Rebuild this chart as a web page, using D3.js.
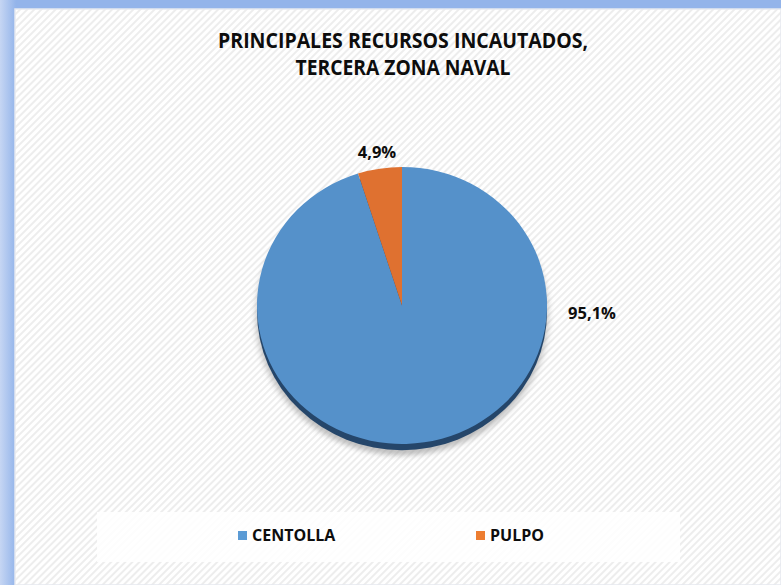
<!DOCTYPE html>
<html>
<head>
<meta charset="utf-8">
<script src="https://cdn.jsdelivr.net/npm/d3@7"></script>
<style>
  html, body { margin: 0; padding: 0; background: #8fb1e9; overflow: hidden; }
  svg { display: block; font-family: "Open Sans", Lato, sans-serif; }
</style>
</head>
<body>
<div id="chart"></div>
<script>
const titleLines = ["PRINCIPALES RECURSOS INCAUTADOS,", "TERCERA ZONA NAVAL"];
const categories = ["CENTOLLA", "PULPO"];
const values = [95.1, 4.9];
const valueLabels = ["95,1%", "4,9%"];
const sliceColors = ["#5591ca", "#df7130"];
const legendColors = ["#5b9bd5", "#ed7d31"];

const width = 781;
const height = 585;

// Calibri is not here: squeeze a bold sans to the same width (keeps the taller glyphs)
function fitWidth(node, target) {
  const w = node.getComputedTextLength();
  if (w > target) {
    node.setAttribute("textLength", target);
    node.setAttribute("lengthAdjust", "spacingAndGlyphs");
  }
}

const svg = d3
  .select("#chart")
  .append("svg")
  .attr("width", width)
  .attr("height", height);

const defs = svg.append("defs");

// blue frame, lighter toward the left edge
const frameGrad = defs.append("linearGradient").attr("id", "frameGrad").attr("x1", 0).attr("x2", 1);
frameGrad.append("stop").attr("offset", 0).attr("stop-color", "#c6d6f3");
frameGrad.append("stop").attr("offset", 1).attr("stop-color", "#93b4ea");
svg.append("rect").attr("width", width).attr("height", height).attr("fill", "#93b4ea");
svg.append("rect").attr("width", 16).attr("height", height).attr("fill", "url(#frameGrad)");

// diagonal stripe pattern
const stripes = defs
  .append("pattern")
  .attr("id", "stripes")
  .attr("patternUnits", "userSpaceOnUse")
  .attr("width", 5)
  .attr("height", 5)
  .attr("patternTransform", "rotate(-45)");
stripes.append("rect").attr("width", 5).attr("height", 5).attr("fill", "#ffffff");
stripes.append("rect").attr("width", 5).attr("height", 2).attr("fill", "#ededed");

const area = { x: 15, y: 9 };
svg
  .append("rect")
  .attr("x", area.x)
  .attr("y", area.y)
  .attr("width", width - area.x)
  .attr("height", height - area.y)
  .attr("fill", "url(#stripes)")
  .attr("stroke", "#e6e9ef")
  .attr("stroke-width", 1.5);

// title
const titleWidths = [370, 215];
svg
  .append("g")
  .selectAll("text")
  .data(titleLines)
  .enter()
  .append("text")
  .attr("text-anchor", "middle")
  .attr("x", 403)
  .attr("y", (d, i) => 47.5 + i * 27.5)
  .style("font-weight", "bold")
  .style("font-size", "21.5px")
  .style("fill", "#0d0d0d")
  .text((d) => d)
  .each(function (d, i) {
    fitWidth(this, titleWidths[i]);
  });

// pie
const cx = 402;
const cy = 305.5;
const radius = 145;
const squash = 0.955;

const blur = defs.append("filter").attr("id", "blur").attr("x", "-20%").attr("y", "-20%").attr("width", "140%").attr("height", "140%");
blur.append("feGaussianBlur").attr("stdDeviation", 3);

const pieG = svg.append("g").attr("transform", `translate(${cx},${cy}) scale(1,${squash})`);

pieG
  .append("circle")
  .attr("cy", 11)
  .attr("r", radius + 1)
  .attr("fill", "#9a9a9a")
  .attr("opacity", 0.6)
  .attr("filter", "url(#blur)");

pieG
  .append("circle")
  .attr("cy", 6.5)
  .attr("r", radius)
  .attr("fill", "#25466a");

const pie = d3.pie().sort(null)(values);
const arc = d3.arc().innerRadius(0).outerRadius(radius);

pieG
  .selectAll("path.slice")
  .data(pie)
  .enter()
  .append("path")
  .attr("class", "slice")
  .attr("d", arc)
  .attr("fill", (d, i) => sliceColors[i]);

// data labels: small slice above its centroid, big slice on the right side
const labelArc = d3.arc().innerRadius(radius + 18).outerRadius(radius + 18);
const labelPos = (d, i) => {
  if (i === 0) {
    const a = Math.PI / 2;
    return [cx + Math.sin(a) * (radius + 45), cy + 13];
  }
  const c = labelArc.centroid(d);
  return [cx + c[0], cy + c[1] * squash + 6];
};
const labelWidths = [50, 41];

svg
  .selectAll("text.label")
  .data(pie)
  .enter()
  .append("text")
  .attr("class", "label")
  .attr("text-anchor", "middle")
  .attr("x", (d, i) => labelPos(d, i)[0])
  .attr("y", (d, i) => labelPos(d, i)[1])
  .style("font-weight", "bold")
  .style("font-size", "16.5px")
  .style("fill", "#0d0d0d")
  .text((d, i) => valueLabels[i])
  .each(function (d, i) {
    fitWidth(this, labelWidths[i]);
  });

// legend
const legend = svg.append("g");
legend
  .append("rect")
  .attr("x", 97)
  .attr("y", 512)
  .attr("width", 583)
  .attr("height", 50)
  .attr("fill", "#ffffff")
  .attr("opacity", 0.85);

const legendX = d3.scalePoint().domain(categories).range([238, 476]);
const legendWidths = [84, 57];

const items = legend
  .selectAll("g.item")
  .data(categories)
  .enter()
  .append("g")
  .attr("class", "item")
  .attr("transform", (d) => `translate(${legendX(d)},531)`);

items
  .append("rect")
  .attr("width", 9)
  .attr("height", 9)
  .attr("fill", (d, i) => legendColors[i]);

items
  .append("text")
  .attr("x", 14)
  .attr("y", 10)
  .style("font-weight", "bold")
  .style("font-size", "16px")
  .style("fill", "#0d0d0d")
  .text((d) => d)
  .each(function (d, i) {
    fitWidth(this, legendWidths[i]);
  });
</script>
</body>
</html>
